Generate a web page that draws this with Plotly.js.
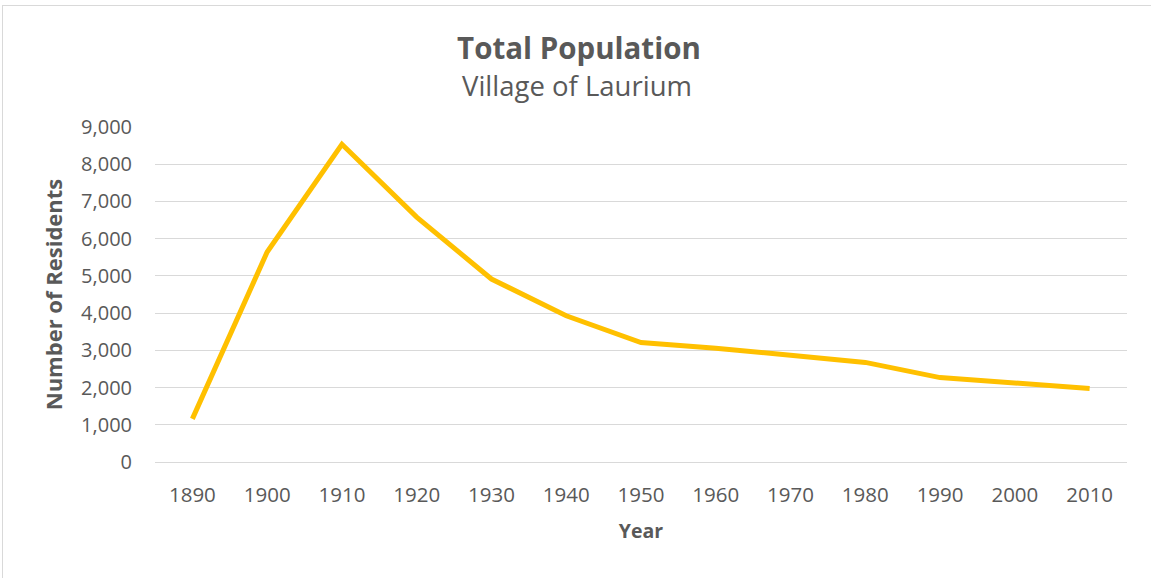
<!DOCTYPE html>
<html>
<head>
<meta charset="utf-8">
<script src="https://cdn.plot.ly/plotly-3.0.1.min.js"></script>
<style>
html,body{margin:0;padding:0;background:#fff;overflow:hidden;}
#chart{width:1151px;height:578px;position:absolute;left:0;top:0;}
#frame{position:absolute;left:2px;top:5px;width:1160px;height:590px;border:1px solid #d9d9d9;pointer-events:none;}
</style>
</head>
<body>
<div id="chart"></div>
<div id="frame"></div>
<script>
const years = ["1890","1900","1910","1920","1930","1940","1950","1960","1970","1980","1990","2000","2010"];
const residents = [1159, 5643, 8537, 6580, 4916, 3929, 3211, 3058, 2868, 2676, 2268, 2126, 1977];
const yTicks = [0,1000,2000,3000,4000,5000,6000,7000,8000,9000];

const txt = '#595959';
const font = '"Open Sans", Lato, sans-serif';

const trace = {
  x: years, y: residents, type: 'scatter', mode: 'lines',
  line: {color: '#FFC000', width: 5},
  hoverinfo: 'x+y'
};

const layout = {
  width: 1151, height: 578,
  margin: {l: 155, r: 24, t: 127, b: 116},
  paper_bgcolor: '#fff', plot_bgcolor: '#fff',
  font: {family: font, color: txt, size: 19},
  showlegend: false,
  title: {text: '<b>Total Population</b>', x: 0.503, xanchor: 'center',
          yref: 'container', y: 0.915, yanchor: 'middle',
          font: {family: font, size: 29.5, color: txt}},
  annotations: [{
    text: 'Village of Laurium', xref: 'paper', yref: 'paper',
    x: 0.434, y: 1.125, xanchor: 'center', yanchor: 'middle', showarrow: false,
    font: {family: font, size: 27.5, color: txt}
  }],
  xaxis: {
    type: 'category', range: [-0.5, 12.5],
    showgrid: false, showline: true, linecolor: '#d9d9d9', linewidth: 1,
    ticks: '', ticklabelstandoff: 14,
    tickfont: {family: font, size: 20.5, color: txt},
    title: {text: '<b>Year</b>', font: {family: font, size: 19.5, color: txt}, standoff: 17},
    fixedrange: true
  },
  yaxis: {
    range: [0, 9000], tickvals: yTicks, tickformat: ',d',
    showgrid: true, gridcolor: '#d9d9d9', gridwidth: 1,
    zeroline: false, showline: false, ticks: '', ticklabelstandoff: 22,
    tickfont: {family: font, size: 20, color: txt},
    title: {text: '<b>Number of Residents</b>', font: {family: font, size: 22, color: txt}, standoff: 12},
    fixedrange: true
  }
};

Plotly.newPlot('chart', [trace], layout, {displayModeBar: false, staticPlot: true});
</script>
</body>
</html>
